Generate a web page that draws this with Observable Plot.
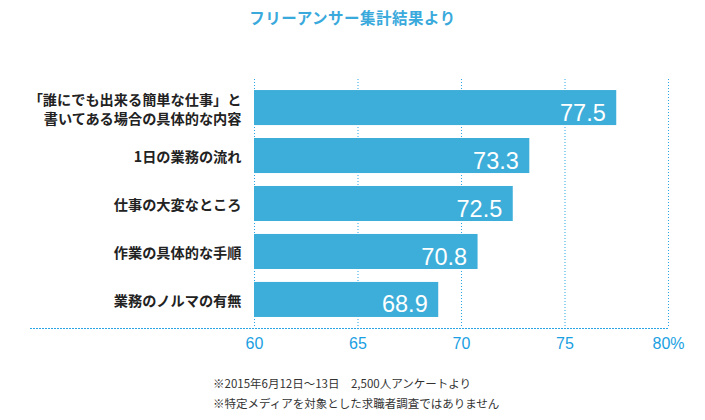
<!DOCTYPE html>
<html><head><meta charset="utf-8">
<script src="https://cdn.jsdelivr.net/npm/d3@7"></script>
<script src="https://cdn.jsdelivr.net/npm/@observablehq/plot@0.6"></script>
<style>
body{margin:0;background:#fff;font-family:"Noto Sans CJK JP",sans-serif;}
#title{height:35px;line-height:34px;text-align:center;color:#3aa9dc;font-weight:bold;font-size:15.5px;letter-spacing:0.5px}
#chart svg{display:block}
#foot{padding:13px 0 0 213px;font-size:11.5px;line-height:20px;color:#333}
</style></head><body>
<div id="title">フリーアンサー集計結果より</div>
<div id="chart"></div>
<div id="foot"><div>※2015年6月12日〜13日　2,500人アンケートより</div><div>※特定メディアを対象とした求職者調査ではありません</div></div>
<script>
const categories = [
  "「誰にでも出来る簡単な仕事」と\n書いてある場合の具体的な内容",
  "1日の業務の流れ",
  "仕事の大変なところ",
  "作業の具体的な手順",
  "業務のノルマの有無"
];
const values = [77.5, 73.3, 72.5, 70.8, 68.9];
const xTicks = [60, 65, 70, 75, 80];
const xTickLabels = ["60", "65", "70", "75", "80%"];

const data = categories.map((c, i) => ({category: c, value: values[i]}));

const chart = Plot.plot({
  width: 705,
  height: 325,
  marginLeft: 254,
  marginRight: 37,
  marginTop: 44,
  marginBottom: 32,
  style: {fontFamily: "'Noto Sans CJK JP', sans-serif", background: "#fff"},
  x: {domain: [xTicks[0], xTicks[xTicks.length - 1]]},
  y: {domain: categories, paddingInner: 0.27, paddingOuter: 0.23, round: false},
  marks: [
    Plot.ruleX(xTicks, {stroke: "#2ba6e4", strokeDasharray: "1,2", strokeWidth: 1}),
    Plot.frame({anchor: "bottom", stroke: "#2ba6e4", strokeDasharray: "1,2", insetLeft: -224}),
    Plot.barX(data, {y: "category", x1: xTicks[0], x2: "value", fill: "#3daed9"}),
    Plot.text(data, {
      y: "category", x: "value", text: d => d.value.toFixed(1),
      textAnchor: "end", dx: -11, dy: 5, fill: "white", fontSize: 23.5,
      fontFamily: "'Liberation Sans', Arial, sans-serif"
    }),
    Plot.axisX({
      ticks: xTicks, tickFormat: d => xTickLabels[xTicks.indexOf(d)],
      tickSize: 0, tickPadding: 9, fontSize: 16, fill: "#1a9fe2",
      fontFamily: "'Liberation Sans', Arial, sans-serif", label: null
    }),
    Plot.axisY({
      tickSize: 0, tickPadding: 13, fontSize: 14.2, fontWeight: "bold",
      lineHeight: 1.35, fill: "#222", label: null
    })
  ]
});
document.getElementById("chart").appendChild(chart);
</script>
</body></html>
